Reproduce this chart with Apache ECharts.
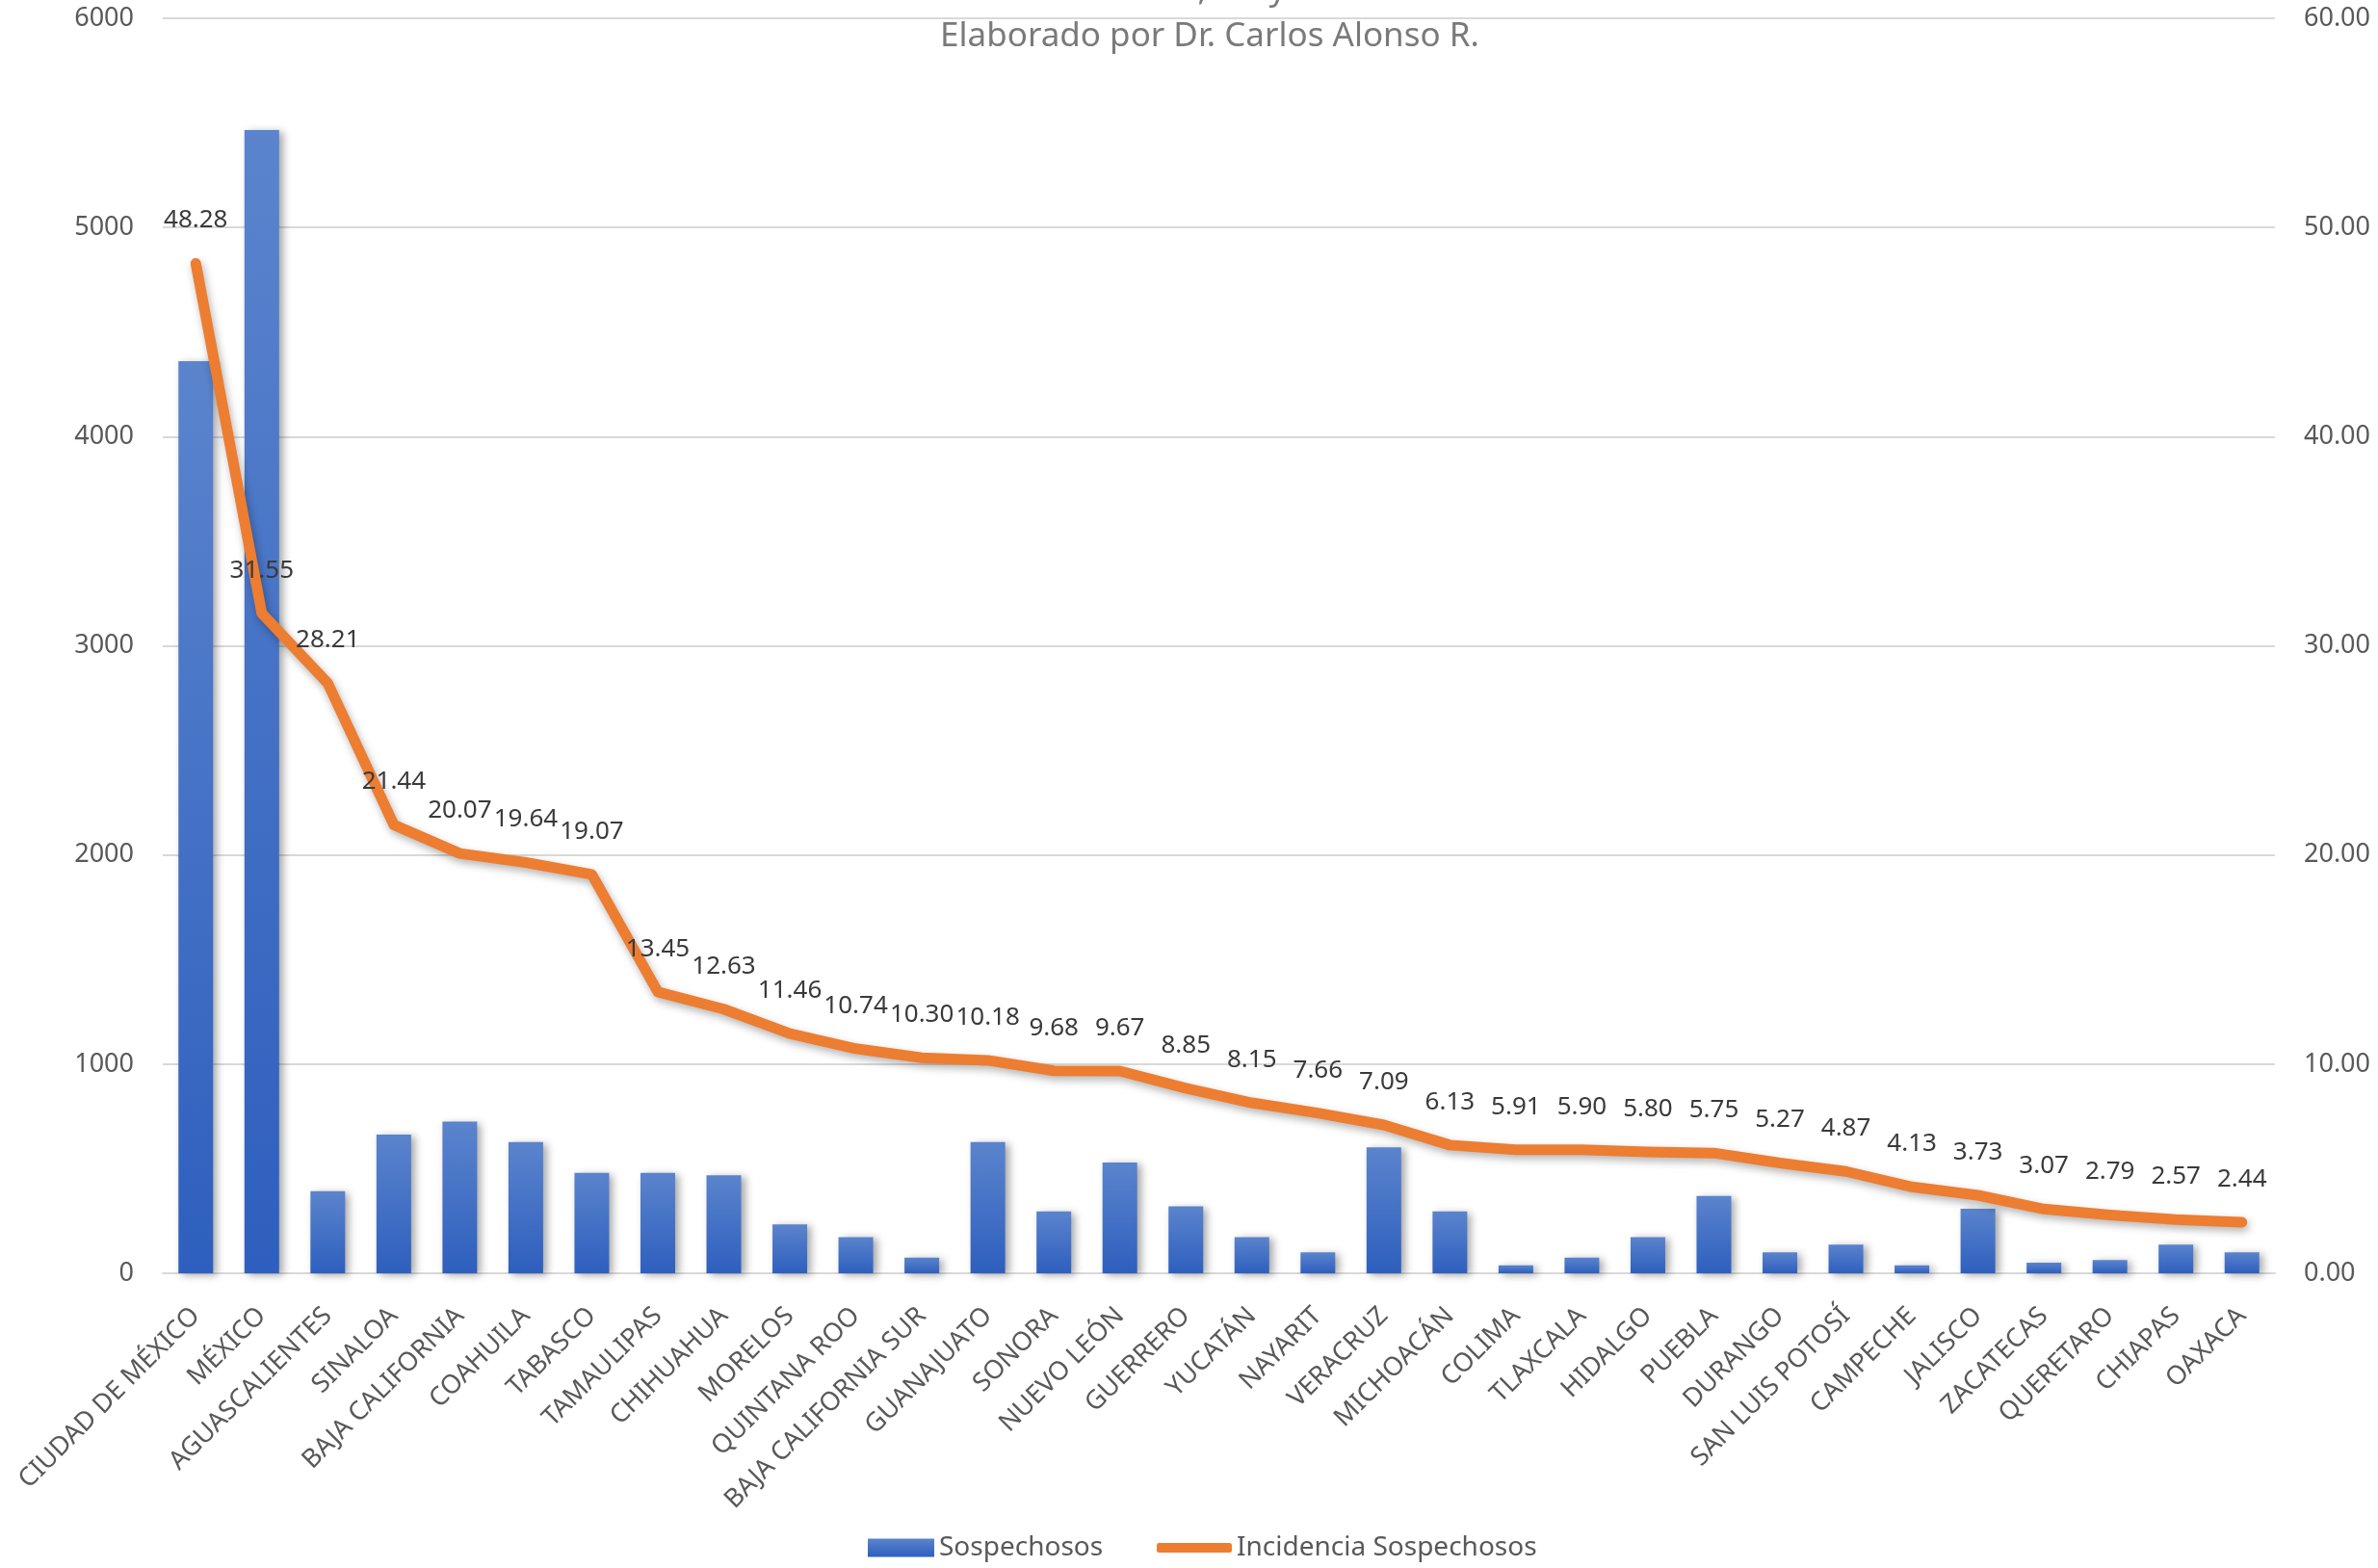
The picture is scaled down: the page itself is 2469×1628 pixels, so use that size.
<!DOCTYPE html>
<html>
<head>
<meta charset="utf-8">
<script src="https://cdn.jsdelivr.net/npm/echarts@6/dist/echarts.min.js"></script>
<style>
html,body{margin:0;padding:0;background:#fff;}
#chart{width:2469px;height:1628px;}
</style>
</head>
<body>
<div id="chart"></div>
<script>
const categories = ["CIUDAD DE MÉXICO","MÉXICO","AGUASCALIENTES","SINALOA","BAJA CALIFORNIA","COAHUILA","TABASCO","TAMAULIPAS","CHIHUAHUA","MORELOS","QUINTANA ROO","BAJA CALIFORNIA SUR","GUANAJUATO","SONORA","NUEVO LEÓN","GUERRERO","YUCATÁN","NAYARIT","VERACRUZ","MICHOACÁN","COLIMA","TLAXCALA","HIDALGO","PUEBLA","DURANGO","SAN LUIS POTOSÍ","CAMPECHE","JALISCO","ZACATECAS","QUERETARO","CHIAPAS","OAXACA"];
const sospechosos = [4361,5466,392,663,725,627,480,480,468,234,173,75,627,296,529,320,173,100,602,296,38,75,173,369,100,137,38,308,51,63,137,100];
const incidencia = [48.28,31.55,28.21,21.44,20.07,19.64,19.07,13.45,12.63,11.46,10.74,10.30,10.18,9.68,9.67,8.85,8.15,7.66,7.09,6.13,5.91,5.90,5.80,5.75,5.27,4.87,4.13,3.73,3.07,2.79,2.57,2.44];
const leftTicks = {min:0, max:6000, interval:1000};
const rightTicks = {min:0, max:60, interval:10};
const seriesNames = ["Sospechosos","Incidencia Sospechosos"];
const titleLines = ["Fuente: Base de datos COVID-19 SS. México; Proyecciones de la Población 2020 CONAPO","Elaborado por Dr. Carlos Alonso R."];

const FONT = '"Noto Sans", "Open Sans", sans-serif';
const chart = echarts.init(document.getElementById('chart'), null, {renderer:'canvas'});
const barGradient = new echarts.graphic.LinearGradient(0,0,0,1,[
  {offset:0,color:'#5b84cd'},{offset:1,color:'#2e5fbe'}
]);
chart.setOption({
  backgroundColor:'#ffffff',
  animation:false,
  textStyle:{fontFamily:FONT},
  graphic:[
    {type:'text', x:1256, y:-10, style:{text:titleLines[0], textAlign:'center', textVerticalAlign:'middle', font:'35px "Noto Sans", sans-serif', fill:'#7a7a7a'}},
    {type:'text', x:1256, y:38, style:{text:titleLines[1], textAlign:'center', textVerticalAlign:'middle', font:'35px "Noto Sans", sans-serif', fill:'#7a7a7a'}}
  ],
  grid:{left:169, right:107, top:19, bottom:306, containLabel:false},
  legend:[
    {data:[{name:seriesNames[0], icon:'rect'}], left:896, top:1587, itemWidth:69, itemHeight:19, itemGap:10,
     textStyle:{fontSize:28, color:'#595959', fontFamily:FONT, lineHeight:30}},
    {data:[{name:seriesNames[1], icon:'roundRect'}], left:1196, top:1587, itemWidth:78, itemHeight:10, itemGap:10,
     textStyle:{fontSize:28, color:'#595959', fontFamily:FONT, lineHeight:30}}
  ],
  xAxis:{
    type:'category', data:categories,
    axisLine:{show:true, lineStyle:{color:'#d9d9d9', width:2}},
    axisTick:{show:false},
    axisLabel:{rotate:45, interval:0, margin:40, fontSize:27, color:'#595959', fontFamily:FONT}
  },
  yAxis:[
    {type:'value', min:leftTicks.min, max:leftTicks.max, interval:leftTicks.interval,
     axisLine:{show:false}, axisTick:{show:false},
     axisLabel:{fontSize:27, color:'#595959', margin:30, fontFamily:FONT, formatter:v=>String(v)},
     splitLine:{show:true, lineStyle:{color:'#d9d9d9', width:2}}},
    {type:'value', min:rightTicks.min, max:rightTicks.max, interval:rightTicks.interval, position:'right',
     axisLine:{show:false}, axisTick:{show:false},
     axisLabel:{fontSize:27, color:'#595959', margin:30, fontFamily:FONT, formatter:v=>v.toFixed(2)},
     splitLine:{show:false}}
  ],
  series:[
    {name:seriesNames[0], type:'bar', data:sospechosos, yAxisIndex:0, barWidth:36,
     itemStyle:{color:barGradient, shadowColor:'rgba(0,0,0,0.35)', shadowBlur:8, shadowOffsetX:4, shadowOffsetY:2},
     z:2},
    {name:seriesNames[1], type:'line', data:incidencia, yAxisIndex:1, color:'#ed7d31',
     symbol:'circle', symbolSize:1, showSymbol:true, smooth:false,
     lineStyle:{color:'#ed7d31', width:11, cap:'round', join:'round', shadowColor:'rgba(0,0,0,0.3)', shadowBlur:8, shadowOffsetX:2, shadowOffsetY:4},
     itemStyle:{color:'#ed7d31'},
     label:{show:true, position:'top', distance:31, fontSize:26, color:'#3a3a3a', fontFamily:FONT, lineHeight:26,
            formatter:p=>p.value.toFixed(2)},
     labelLayout:{hideOverlap:false},
     z:3}
  ]
});
</script>
</body>
</html>
